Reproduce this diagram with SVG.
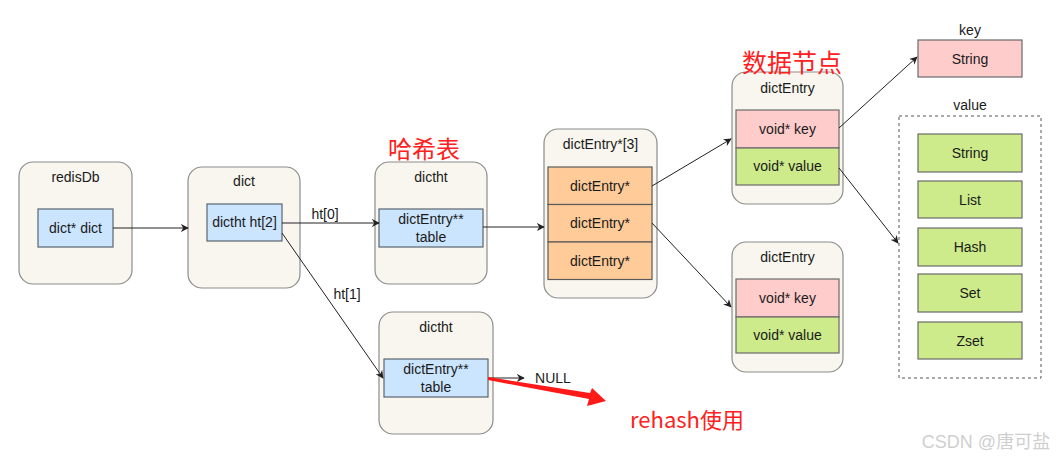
<svg xmlns="http://www.w3.org/2000/svg" width="1061" height="457" viewBox="0 0 1061 457">
<style>
.c{fill:#f8f6ee;stroke:#8c8c8c;stroke-width:1.2}
.b{fill:#cce5ff;stroke:#5a6470;stroke-width:1.2}
.o{fill:#ffcc99;stroke:#5a5a5a;stroke-width:1.2}
.p{fill:#ffcccc;stroke:#6a6a6a;stroke-width:1.2}
.g{fill:#cdeb8b;stroke:#6a6a6a;stroke-width:1.2}
text{font-family:"Liberation Sans",Arial,sans-serif;font-size:14px;fill:#1a1a1a;text-anchor:middle;dominant-baseline:central}
.r{font-family:"Noto Sans CJK SC","Liberation Sans",sans-serif;fill:#ff2020;font-size:24px}
.l{stroke:#222;stroke-width:1;fill:none;marker-end:url(#a)}
</style>
<defs>
<marker id="a" viewBox="0 0 10 10" refX="9" refY="5" markerWidth="8" markerHeight="8" orient="auto" markerUnits="userSpaceOnUse">
<path d="M0,0 L10,5 L0,10 L3,5 Z" fill="#222"/>
</marker>
</defs>
<rect width="1061" height="457" fill="#fff"/>
<g id="redisDb">
<rect class="c" x="19" y="162" width="113" height="122" rx="14"/>
<text x="75.5" y="177">redisDb</text>
<rect class="b" x="38" y="209" width="75" height="38"/>
<text x="75.5" y="228">dict* dict</text>
</g>
<g id="dict">
<rect class="c" x="188" y="167" width="112" height="121" rx="14"/>
<text x="244" y="181">dict</text>
<rect class="b" x="207" y="204" width="75" height="37"/>
<text x="244.5" y="222">dictht ht[2]</text>
</g>
<g id="dictht0">
<rect class="c" x="375" y="162" width="112" height="122" rx="14"/>
<text x="431" y="177">dictht</text>
<rect class="b" x="379" y="209" width="104" height="38"/>
<text x="431" y="219">dictEntry**</text>
<text x="431" y="237">table</text>
</g>
<g id="dictht1">
<rect class="c" x="379" y="312" width="114" height="122" rx="14"/>
<text x="436" y="327">dictht</text>
<rect class="b" x="384" y="359" width="104" height="38"/>
<text x="436" y="369">dictEntry**</text>
<text x="436" y="387">table</text>
</g>
<g id="table">
<rect class="c" x="544" y="129" width="113" height="169" rx="14"/>
<text x="600.5" y="144">dictEntry*[3]</text>
<rect class="o" x="548" y="167" width="104" height="37.5"/>
<rect class="o" x="548" y="204.5" width="104" height="37.5"/>
<rect class="o" x="548" y="242" width="104" height="37.5"/>
<text x="600" y="186">dictEntry*</text>
<text x="600" y="223">dictEntry*</text>
<text x="600" y="261">dictEntry*</text>
</g>
<g id="entry1">
<rect class="c" x="732" y="72" width="111" height="132" rx="14"/>
<text x="787.5" y="88">dictEntry</text>
<rect class="p" x="736" y="110" width="103" height="38"/>
<rect class="g" x="736" y="148" width="103" height="37"/>
<text x="787.5" y="129">void* key</text>
<text x="787.5" y="166">void* value</text>
</g>
<g id="entry2">
<rect class="c" x="732" y="242" width="111" height="130" rx="14"/>
<text x="787.5" y="257">dictEntry</text>
<rect class="p" x="736" y="279" width="103" height="38"/>
<rect class="g" x="736" y="317" width="103" height="36"/>
<text x="787.5" y="298">void* key</text>
<text x="787.5" y="335">void* value</text>
</g>
<g id="key">
<text x="970" y="30">key</text>
<rect class="p" x="918" y="40" width="104" height="37"/>
<text x="970" y="58.5">String</text>
</g>
<g id="value">
<text x="970" y="105">value</text>
<rect x="899" y="116" width="142" height="262" fill="none" stroke="#555" stroke-width="1" stroke-dasharray="3,3"/>
<rect class="g" x="918" y="134" width="104" height="38"/>
<text x="970" y="153">String</text>
<rect class="g" x="918" y="181" width="104" height="37"/>
<text x="970" y="199.5">List</text>
<rect class="g" x="918" y="228" width="104" height="38"/>
<text x="970" y="247">Hash</text>
<rect class="g" x="918" y="274" width="104" height="38"/>
<text x="970" y="293">Set</text>
<rect class="g" x="918" y="322" width="104" height="37"/>
<text x="970" y="340.5">Zset</text>
</g>
<g id="connectors">
<line class="l" x1="113" y1="228" x2="188" y2="228"/>
<line class="l" x1="282" y1="223" x2="379" y2="223"/>
<text x="325" y="214">ht[0]</text>
<line class="l" x1="282" y1="233" x2="383" y2="378"/>
<text x="347" y="294">ht[1]</text>
<line class="l" x1="488" y1="378" x2="524" y2="378"/>
<line class="l" x1="483" y1="227" x2="544" y2="227"/>
<text x="553" y="378">NULL</text>
<line class="l" x1="652" y1="186" x2="731" y2="139"/>
<line class="l" x1="652" y1="223" x2="731" y2="307"/>
<line class="l" x1="839" y1="128" x2="917" y2="57"/>
<line class="l" x1="839" y1="168" x2="898" y2="243"/>
</g>
<g id="annotations">
<text class="r" x="424" y="147">哈希表</text>
<text class="r" x="792" y="61" style="font-size:25px">数据节点</text>
<polygon points="488,377 590,393 592,388 606,401 587,406 589,399 488,380" fill="#ff1a1a"/>
<text class="r" x="687" y="418" style="font-size:22px">rehash使用</text>
<text x="986" y="442" style="font-size:18px;fill:#cfcfcf;font-family:'Liberation Sans','Noto Sans CJK SC',sans-serif">CSDN @唐可盐</text>
</g>
</svg>
